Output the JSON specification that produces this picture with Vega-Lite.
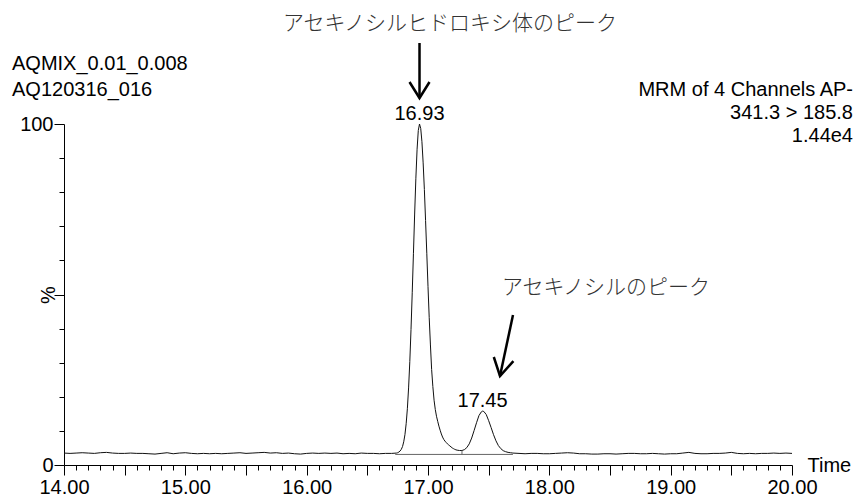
{
  "$schema": "https://vega.github.io/schema/vega-lite/v6.json",
  "width": 728,
  "height": 341,
  "autosize": {"type": "none"},
  "padding": {"left": 64, "top": 124, "right": 67, "bottom": 32},
  "background": "white",
  "config": {
    "view": {"stroke": null},
    "font": "Liberation Sans",
    "axis": {
      "grid": false,
      "domainColor": "black",
      "tickColor": "black",
      "labelColor": "black",
      "titleColor": "black",
      "labelFont": "Liberation Sans",
      "titleFont": "Liberation Sans",
      "labelFontSize": 20,
      "titleFontSize": 20,
      "titleFontWeight": "normal"
    }
  },
  "datasets": {
    "trace": [
      {"t": 14.00, "pct": 3.5}, {"t": 14.05, "pct": 3.4}, {"t": 14.10, "pct": 3.5}, {"t": 14.15, "pct": 3.6},
      {"t": 14.20, "pct": 3.5}, {"t": 14.25, "pct": 3.4}, {"t": 14.30, "pct": 3.6}, {"t": 14.35, "pct": 3.7},
      {"t": 14.40, "pct": 3.5}, {"t": 14.45, "pct": 3.4}, {"t": 14.50, "pct": 3.4}, {"t": 14.55, "pct": 3.5},
      {"t": 14.60, "pct": 3.4}, {"t": 14.65, "pct": 3.4}, {"t": 14.70, "pct": 3.3}, {"t": 14.75, "pct": 3.2},
      {"t": 14.80, "pct": 3.4}, {"t": 14.85, "pct": 3.6}, {"t": 14.90, "pct": 3.3}, {"t": 14.95, "pct": 3.5},
      {"t": 15.00, "pct": 3.6}, {"t": 15.05, "pct": 3.4}, {"t": 15.10, "pct": 3.3}, {"t": 15.15, "pct": 3.4},
      {"t": 15.20, "pct": 3.3}, {"t": 15.25, "pct": 3.4}, {"t": 15.30, "pct": 3.3}, {"t": 15.35, "pct": 3.4},
      {"t": 15.40, "pct": 3.5}, {"t": 15.45, "pct": 3.6}, {"t": 15.50, "pct": 3.4}, {"t": 15.55, "pct": 3.5},
      {"t": 15.60, "pct": 3.6}, {"t": 15.65, "pct": 3.7}, {"t": 15.70, "pct": 3.5}, {"t": 15.75, "pct": 3.6},
      {"t": 15.80, "pct": 3.4}, {"t": 15.85, "pct": 3.5}, {"t": 15.90, "pct": 3.3}, {"t": 15.95, "pct": 3.2},
      {"t": 16.00, "pct": 3.4}, {"t": 16.05, "pct": 3.5}, {"t": 16.10, "pct": 3.4}, {"t": 16.15, "pct": 3.5},
      {"t": 16.20, "pct": 3.4}, {"t": 16.25, "pct": 3.5}, {"t": 16.30, "pct": 3.3}, {"t": 16.35, "pct": 3.4},
      {"t": 16.40, "pct": 3.3}, {"t": 16.45, "pct": 3.5}, {"t": 16.50, "pct": 3.4}, {"t": 16.55, "pct": 3.4},
      {"t": 16.60, "pct": 3.3}, {"t": 16.65, "pct": 3.4}, {"t": 16.70, "pct": 3.4}, {"t": 16.74, "pct": 3.5},
      {"t": 16.75, "pct": 3.6}, {"t": 16.76, "pct": 3.8}, {"t": 16.77, "pct": 4.1}, {"t": 16.78, "pct": 4.6},
      {"t": 16.79, "pct": 5.4}, {"t": 16.80, "pct": 6.8}, {"t": 16.81, "pct": 8.9}, {"t": 16.82, "pct": 12.1},
      {"t": 16.83, "pct": 16.5}, {"t": 16.84, "pct": 22.6}, {"t": 16.85, "pct": 30.3}, {"t": 16.86, "pct": 39.7},
      {"t": 16.87, "pct": 50.5}, {"t": 16.88, "pct": 62.1}, {"t": 16.89, "pct": 73.6}, {"t": 16.90, "pct": 84.1},
      {"t": 16.91, "pct": 92.6}, {"t": 16.92, "pct": 98.1}, {"t": 16.93, "pct": 100.0}, {"t": 16.94, "pct": 98.7},
      {"t": 16.95, "pct": 94.8}, {"t": 16.96, "pct": 88.6}, {"t": 16.97, "pct": 80.8}, {"t": 16.98, "pct": 71.7},
      {"t": 16.99, "pct": 62.1}, {"t": 17.00, "pct": 52.3}, {"t": 17.01, "pct": 43.2}, {"t": 17.02, "pct": 35.2},
      {"t": 17.03, "pct": 28.0}, {"t": 17.04, "pct": 23.0}, {"t": 17.05, "pct": 19.0}, {"t": 17.06, "pct": 16.3},
      {"t": 17.07, "pct": 14.3}, {"t": 17.08, "pct": 12.8}, {"t": 17.09, "pct": 11.4}, {"t": 17.10, "pct": 10.2},
      {"t": 17.11, "pct": 9.1}, {"t": 17.12, "pct": 8.2}, {"t": 17.13, "pct": 7.5}, {"t": 17.14, "pct": 7.0},
      {"t": 17.15, "pct": 6.6}, {"t": 17.16, "pct": 6.2}, {"t": 17.17, "pct": 5.9}, {"t": 17.18, "pct": 5.6},
      {"t": 17.19, "pct": 5.3}, {"t": 17.20, "pct": 5.0}, {"t": 17.21, "pct": 4.8}, {"t": 17.22, "pct": 4.6},
      {"t": 17.23, "pct": 4.45}, {"t": 17.24, "pct": 4.35}, {"t": 17.26, "pct": 4.25}, {"t": 17.28, "pct": 4.25},
      {"t": 17.30, "pct": 4.5}, {"t": 17.32, "pct": 5.1}, {"t": 17.34, "pct": 6.2}, {"t": 17.36, "pct": 7.9},
      {"t": 17.38, "pct": 10.1}, {"t": 17.40, "pct": 12.4}, {"t": 17.42, "pct": 14.5}, {"t": 17.44, "pct": 15.6},
      {"t": 17.45, "pct": 15.8}, {"t": 17.46, "pct": 15.7}, {"t": 17.48, "pct": 14.8}, {"t": 17.50, "pct": 13.0},
      {"t": 17.52, "pct": 11.0}, {"t": 17.54, "pct": 8.9}, {"t": 17.56, "pct": 7.1}, {"t": 17.58, "pct": 5.7},
      {"t": 17.60, "pct": 4.8}, {"t": 17.62, "pct": 4.2}, {"t": 17.64, "pct": 3.9}, {"t": 17.66, "pct": 3.7},
      {"t": 17.68, "pct": 3.6}, {"t": 17.70, "pct": 3.5}, {"t": 17.75, "pct": 3.4}, {"t": 17.80, "pct": 3.3},
      {"t": 17.85, "pct": 3.4}, {"t": 17.90, "pct": 3.4}, {"t": 17.95, "pct": 3.3}, {"t": 18.00, "pct": 3.3},
      {"t": 18.05, "pct": 3.4}, {"t": 18.10, "pct": 3.5}, {"t": 18.15, "pct": 3.6}, {"t": 18.20, "pct": 3.5},
      {"t": 18.25, "pct": 3.3}, {"t": 18.30, "pct": 3.3}, {"t": 18.35, "pct": 3.2}, {"t": 18.40, "pct": 3.2},
      {"t": 18.45, "pct": 3.3}, {"t": 18.50, "pct": 3.3}, {"t": 18.55, "pct": 3.2}, {"t": 18.60, "pct": 3.3},
      {"t": 18.65, "pct": 3.4}, {"t": 18.70, "pct": 3.4}, {"t": 18.75, "pct": 3.3}, {"t": 18.80, "pct": 3.3},
      {"t": 18.85, "pct": 3.4}, {"t": 18.90, "pct": 3.3}, {"t": 18.95, "pct": 3.2}, {"t": 19.00, "pct": 3.3},
      {"t": 19.05, "pct": 3.3}, {"t": 19.10, "pct": 3.5}, {"t": 19.15, "pct": 3.7}, {"t": 19.20, "pct": 3.4},
      {"t": 19.25, "pct": 3.3}, {"t": 19.30, "pct": 3.3}, {"t": 19.35, "pct": 3.4}, {"t": 19.40, "pct": 3.4},
      {"t": 19.45, "pct": 3.5}, {"t": 19.50, "pct": 3.7}, {"t": 19.55, "pct": 3.4}, {"t": 19.60, "pct": 3.3},
      {"t": 19.65, "pct": 3.4}, {"t": 19.70, "pct": 3.3}, {"t": 19.75, "pct": 3.4}, {"t": 19.80, "pct": 3.4},
      {"t": 19.85, "pct": 3.5}, {"t": 19.90, "pct": 3.4}, {"t": 19.95, "pct": 3.5}, {"t": 20.00, "pct": 3.4}
    ],
    "integration": [
      {"seg": "base", "t": 16.73, "pct": 3.1},
      {"seg": "base", "t": 17.70, "pct": 3.1},
      {"seg": "drop", "t": 17.28, "pct": 3.1},
      {"seg": "drop", "t": 17.28, "pct": 4.25}
    ],
    "peaks": [
      {"rt": 16.93, "height": 100.0},
      {"rt": 17.45, "height": 15.8}
    ],
    "arrows": [
      {"part": "main-shaft", "k": 0, "t": 16.93, "pct": 123.75},
      {"part": "main-shaft", "k": 1, "t": 16.93, "pct": 107.62},
      {"part": "main-head", "k": 0, "t": 16.8476, "pct": 112.32},
      {"part": "main-head", "k": 1, "t": 16.93, "pct": 107.62},
      {"part": "main-head", "k": 2, "t": 17.0124, "pct": 112.32},
      {"part": "minor-shaft", "k": 0, "t": 17.7005, "pct": 43.99},
      {"part": "minor-shaft", "k": 1, "t": 17.5934, "pct": 26.10},
      {"part": "minor-head", "k": 0, "t": 17.5423, "pct": 31.67},
      {"part": "minor-head", "k": 1, "t": 17.5934, "pct": 26.10},
      {"part": "minor-head", "k": 2, "t": 17.7038, "pct": 30.47}
    ]
  },
  "layer": [
    {
      "data": {"name": "trace"},
      "mark": {"type": "line", "color": "#111111", "strokeWidth": 1, "clip": false},
      "encoding": {
        "x": {
          "field": "t", "type": "quantitative",
          "scale": {"domain": [14, 20], "nice": false, "zero": false},
          "axis": {
            "orient": "bottom",
            "values": [14, 14.5, 15, 15.5, 16, 16.5, 17, 17.5, 18, 18.5, 19, 19.5, 20],
            "tickSize": 10,
            "labelExpr": "datum.value % 1 === 0 ? format(datum.value, '.2f') : ''",
            "labelPadding": 2,
            "labelOverlap": false,
            "labelFlush": false,
            "labelBound": false,
            "title": "Time",
            "titleX": 743,
            "titleY": 0,
            "titleAlign": "left",
            "titleBaseline": "middle"
          }
        },
        "y": {
          "field": "pct", "type": "quantitative",
          "scale": {"domain": [0, 100], "nice": false, "zero": false},
          "axis": {
            "orient": "left",
            "values": [0, 50, 100],
            "tickSize": 10,
            "labelExpr": "datum.value === 50 ? '' : datum.label",
            "labelPadding": 1,
            "labelFlush": false,
            "labelOverlap": false,
            "title": "%",
            "titleAngle": 270,
            "titleX": -16,
            "titleY": 170.5,
            "titleAlign": "center",
            "titleBaseline": "middle"
          }
        }
      }
    },
    {
      "data": {"name": "integration"},
      "mark": {"type": "line", "color": "#666666", "strokeWidth": 1},
      "encoding": {
        "x": {
          "field": "t", "type": "quantitative",
          "axis": {
            "orient": "bottom",
            "values": [14.1, 14.2, 14.3, 14.4, 14.6, 14.7, 14.8, 14.9,
                       15.1, 15.2, 15.3, 15.4, 15.6, 15.7, 15.8, 15.9,
                       16.1, 16.2, 16.3, 16.4, 16.6, 16.7, 16.8, 16.9,
                       17.1, 17.2, 17.3, 17.4, 17.6, 17.7, 17.8, 17.9,
                       18.1, 18.2, 18.3, 18.4, 18.6, 18.7, 18.8, 18.9,
                       19.1, 19.2, 19.3, 19.4, 19.6, 19.7, 19.8, 19.9],
            "tickSize": 5,
            "labels": false,
            "domain": false,
            "title": null
          }
        },
        "y": {
          "field": "pct", "type": "quantitative",
          "axis": {
            "orient": "left",
            "values": [10, 20, 30, 40, 60, 70, 80, 90],
            "tickSize": 5,
            "labels": false,
            "domain": false,
            "title": null
          }
        },
        "detail": {"field": "seg"}
      }
    },
    {
      "data": {"name": "arrows"},
      "mark": {"type": "line", "color": "black", "strokeWidth": 2.5, "strokeJoin": "miter", "strokeCap": "butt", "clip": false},
      "encoding": {
        "x": {"field": "t", "type": "quantitative", "axis": null},
        "y": {"field": "pct", "type": "quantitative", "axis": null},
        "detail": {"field": "part"},
        "order": {"field": "k"}
      }
    },
    {
      "data": {"name": "peaks"},
      "mark": {"type": "text", "fontSize": 20, "font": "Liberation Sans", "color": "black", "baseline": "alphabetic", "align": "center", "dy": -4},
      "encoding": {
        "x": {"field": "rt", "type": "quantitative", "axis": null},
        "y": {"field": "height", "type": "quantitative", "axis": null},
        "text": {"field": "rt", "type": "quantitative", "format": ".2f"}
      }
    },
    {
      "data": {"values": [{}]},
      "mark": {"type": "text", "fontSize": 20, "font": "Liberation Sans", "color": "black", "align": "left", "baseline": "middle"},
      "encoding": {
        "x": {"datum": 13.5714, "type": "quantitative", "axis": null},
        "y": {"datum": 117.6, "type": "quantitative", "axis": null},
        "text": {"value": "AQMIX_0.01_0.008"}
      }
    },
    {
      "data": {"values": [{}]},
      "mark": {"type": "text", "fontSize": 20, "font": "Liberation Sans", "color": "black", "align": "left", "baseline": "middle"},
      "encoding": {
        "x": {"datum": 13.5714, "type": "quantitative", "axis": null},
        "y": {"datum": 109.97, "type": "quantitative", "axis": null},
        "text": {"value": "AQ120316_016"}
      }
    },
    {
      "data": {"values": [{}]},
      "mark": {"type": "text", "fontSize": 20, "font": "Liberation Sans", "color": "black", "align": "right", "baseline": "middle"},
      "encoding": {
        "x": {"datum": 20.5027, "type": "quantitative", "axis": null},
        "y": {"datum": 109.97, "type": "quantitative", "axis": null},
        "text": {"value": "MRM of 4 Channels AP-"}
      }
    },
    {
      "data": {"values": [{}]},
      "mark": {"type": "text", "fontSize": 20, "font": "Liberation Sans", "color": "black", "align": "right", "baseline": "middle"},
      "encoding": {
        "x": {"datum": 20.5027, "type": "quantitative", "axis": null},
        "y": {"datum": 103.23, "type": "quantitative", "axis": null},
        "text": {"value": "341.3 > 185.8"}
      }
    },
    {
      "data": {"values": [{}]},
      "mark": {"type": "text", "fontSize": 20, "font": "Liberation Sans", "color": "black", "align": "right", "baseline": "middle"},
      "encoding": {
        "x": {"datum": 20.5027, "type": "quantitative", "axis": null},
        "y": {"datum": 96.48, "type": "quantitative", "axis": null},
        "text": {"value": "1.44e4"}
      }
    },
    {
      "data": {"values": [{}]},
      "mark": {"type": "text", "fontSize": 21, "font": "Noto Sans CJK JP", "fontWeight": 300, "color": "#333333", "align": "center", "baseline": "middle"},
      "encoding": {
        "x": {"datum": 17.181, "type": "quantitative", "axis": null},
        "y": {"datum": 129.3, "type": "quantitative", "axis": null},
        "text": {"value": "アセキノシルヒドロキシ体のピーク"}
      }
    },
    {
      "data": {"values": [{}]},
      "mark": {"type": "text", "fontSize": 21, "font": "Noto Sans CJK JP", "fontWeight": 300, "color": "#333333", "align": "center", "baseline": "middle"},
      "encoding": {
        "x": {"datum": 18.467, "type": "quantitative", "axis": null},
        "y": {"datum": 51.9, "type": "quantitative", "axis": null},
        "text": {"value": "アセキノシルのピーク"}
      }
    }
  ],
  "resolve": {"axis": {"x": "independent", "y": "independent"}}
}
